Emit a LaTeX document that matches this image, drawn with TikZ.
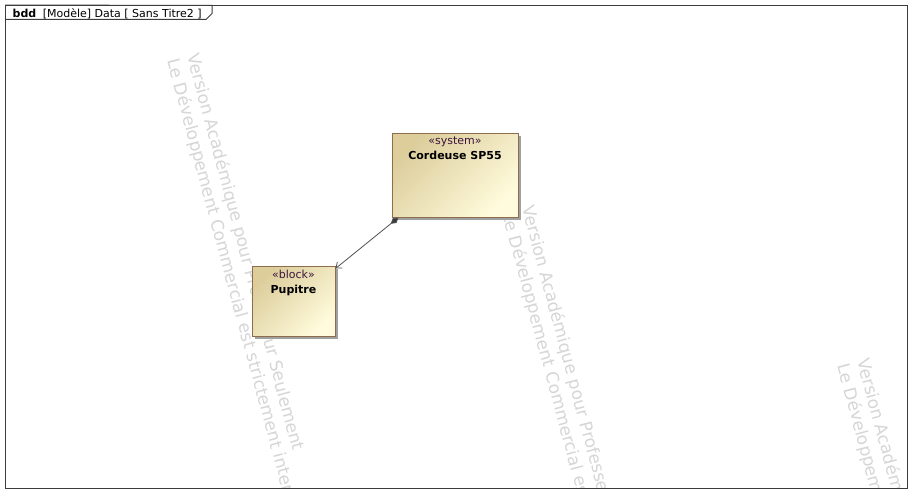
\documentclass[tikz,border=0pt]{standalone}
\usepackage{fontspec}
\setmainfont{DejaVu Sans}
\usetikzlibrary{arrows.meta,shadows}
\definecolor{framec}{RGB}{60,60,60}
\definecolor{blockborder}{RGB}{140,110,78}
\definecolor{blockdark}{RGB}{220,205,155}
\definecolor{blocklight}{RGB}{255,251,220}
\definecolor{shadowc}{RGB}{160,160,160}
\definecolor{stereoc}{RGB}{60,20,60}
\definecolor{wmc}{RGB}{214,214,214}
\definecolor{linkc}{RGB}{80,80,80}
\tikzset{
  umlblock/.style={draw=blockborder, line width=1pt, top color=blockdark, bottom color=blocklight, shading angle=45, inner sep=0pt,
    drop shadow={shadow xshift=3pt, shadow yshift=-3pt, fill=shadowc, opacity=1}},
  stereo/.style={anchor=base, font=\fontsize{11}{13}\selectfont, text=stereoc, inner sep=0pt},
  bname/.style={anchor=base, font=\fontsize{11}{13}\selectfont\bfseries, inner sep=0pt},
  wm/.style={anchor=base west, rotate=-75, font=\fontsize{17}{20}\selectfont, text=wmc, inner sep=0pt},
  framebox/.style={draw=framec, line width=1pt},
  hdr/.style={anchor=base west, font=\fontsize{11}{13}\selectfont, inner sep=0pt},
  link/.style={draw=linkc, line width=0.8pt, {Diamond[length=10pt,width=6pt,fill=framec]}-{Straight Barb[length=5pt,width=8pt]}}
}
\begin{document}
\begin{tikzpicture}[x=1pt,y=-1pt]
\useasboundingbox (0,0) rectangle (922,503);
\fill[white] (0,0) rectangle (922,503);
% watermarks
\begin{scope}
\clip (6,6) rectangle (907,488);
\node[wm] (wm1a) at (187.1,55.1) {Version Académique pour Professeur Seulement};
\node[wm] (wm1b) at (167.4,60.5) {Le Développement Commercial est strictement interdit};
\node[wm] (wm2a) at (522.1,207.6) {Version Académique pour Professeur Seulement};
\node[wm] (wm2b) at (502.4,213.0) {Le Développement Commercial est strictement interdit};
\node[wm] (wm3a) at (857.1,360.1) {Version Académique pour Professeur Seulement};
\node[wm] (wm3b) at (837.4,365.5) {Le Développement Commercial est strictement interdit};
\end{scope}
% frame
\node[framebox, minimum width=901.5pt, minimum height=483pt, inner sep=0pt] (frame) at (456.5,247) {};
\draw[framebox] (frame.north west) -- (212,5.5) -- (212,13.5) -- (206,19.5) -- (5.5,19.5);
\node[hdr] (header) at (12.5,17.5) {\textbf{bdd}\hspace{3pt} [Modèle] Data [ Sans Titre2 ]};
% blocks
\node[umlblock, minimum width=126pt, minimum height=84pt] (sys) at (455,175) {};
\node[stereo] (sysst) at ([yshift=-12pt]sys.north) {«system»};
\node[bname] (sysname) at ([yshift=-26.5pt]sys.north) {Cordeuse SP55};
\node[umlblock, minimum width=83pt, minimum height=70pt] (pup) at (293.5,301) {};
\node[stereo] (pupst) at ([yshift=-12.5pt]pup.north) {«block»};
\node[bname] (pupname) at ([yshift=-27.5pt]pup.north) {Pupitre};
% connector
\draw[link] ([xshift=7pt]sys.south west) -- ([yshift=-3pt]pup.north east);
\end{tikzpicture}
\end{document}
